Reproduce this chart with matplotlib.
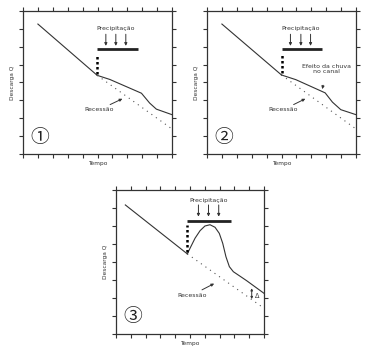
import matplotlib
matplotlib.use("Agg")
import matplotlib.pyplot as plt
import numpy as np

# ---- data (axis units: x 0..10, y 0..8) ----
x_ticks = list(range(0, 11))
y_ticks = list(range(0, 9))

# panel 1 / 2 hydrograph
p1_rec_x = [1.0, 4.98]
p1_rec_y = [7.27, 4.40]
p1_flow_x = [4.98, 5.83, 7.95, 8.5, 8.95, 10.0]
p1_flow_y = [4.40, 4.17, 3.40, 2.85, 2.51, 2.2]
p1_base_x = [4.98, 10.0]
p1_base_y = [4.40, 1.4]

p2_rec_x = [1.0, 5.0]
p2_rec_y = [7.27, 4.42]
p2_flow_x = [5.0, 5.96, 7.93, 8.42, 8.98, 10.0]
p2_flow_y = [4.42, 4.16, 3.42, 2.9, 2.48, 2.2]
p2_base_x = [5.0, 10.0]
p2_base_y = [4.42, 1.4]

# panel 3 hydrograph
p3_rec_x = [0.63, 4.82]
p3_rec_y = [7.17, 4.45]
p3_flow_x = [4.82, 5.0, 5.34, 5.68, 6.01, 6.35, 6.69, 6.98, 7.21, 7.43, 7.66, 7.93,
             8.4, 8.83, 10.0]
p3_flow_y = [4.45, 4.76, 5.32, 5.74, 6.0, 6.07, 5.93, 5.59, 5.04, 4.29, 3.74, 3.46,
             3.2, 2.96, 2.26]
p3_base_x = [4.82, 10.0]
p3_base_y = [4.45, 1.43]

labels = ["①", "②", "③"]

fig = plt.figure(figsize=(3.66, 3.5), dpi=100)
fig.patch.set_facecolor("white")

positions = [
    [23 / 366, 1 - 154 / 350, 149 / 366, 143 / 350],
    [207 / 366, 1 - 154 / 350, 149 / 366, 143 / 350],
    [116 / 366, 1 - 334 / 350, 148 / 366, 144 / 350],
]

FS = 4.2
LC = "#333333"


def setup(ax):
    ax.set_xlim(0, 10)
    ax.set_ylim(0, 8)
    ax.set_xticks(x_ticks)
    ax.set_yticks(y_ticks)
    ax.tick_params(axis="both", which="both", labelbottom=False, labelleft=False,
                   labeltop=False, labelright=False, length=3, width=0.8, color=LC,
                   direction="out", top=True, right=True)
    for side in ["left", "bottom", "top", "right"]:
        ax.spines[side].set_linewidth(0.9)
        ax.spines[side].set_color(LC)
    ax.set_xlabel("Tempo", fontsize=FS, labelpad=2, color=LC)
    ax.set_ylabel("Descarga Q", fontsize=FS, labelpad=3, color=LC)


def draw(ax, rx, ry, fx, fy, bx, by, num, bar, vtop, arrows_x, arr_top, arr_bot,
         ptext_y, rec_text, rec_tip):
    ax.plot(rx, ry, color=LC, lw=0.8)
    ax.plot(fx, fy, color=LC, lw=0.8)
    ax.plot(bx, by, color="#555555", lw=0.8, ls=(0, (1, 4)))
    # thick dotted vertical
    ax.plot([bx[0], bx[0]], [by[0] + 0.1, vtop], color="black", lw=1.8,
            ls=(0, (1, 1)))
    # precipitation bar
    ax.plot([bar[0], bar[1]], [bar[2], bar[2]], color="#222222", lw=2.0,
            solid_capstyle="butt")
    for xa in arrows_x:
        ax.annotate("", xy=(xa, arr_bot), xytext=(xa, arr_top),
                    arrowprops=dict(arrowstyle="-|>", color=LC, lw=0.7,
                                    mutation_scale=4, shrinkA=0, shrinkB=0))
    ax.text(np.mean(arrows_x), ptext_y, "Precipitação", fontsize=FS + 0.3,
            ha="center", va="center", color=LC)
    ax.annotate("Recessão", xy=rec_tip, xytext=rec_text, fontsize=FS + 0.3,
                ha="center", va="center", color=LC,
                arrowprops=dict(arrowstyle="-|>", color=LC, lw=0.7,
                                mutation_scale=4, shrinkA=10, shrinkB=0))
    ax.text(1.15, 0.95, num, fontsize=13.5, ha="center", va="center", color="#222222",
            family=["Noto Sans CJK JP", "DejaVu Sans"])


axes = [fig.add_axes(p) for p in positions]
for ax in axes:
    setup(ax)

draw(axes[0], p1_rec_x, p1_rec_y, p1_flow_x, p1_flow_y, p1_base_x, p1_base_y,
     labels[0], (4.98, 7.72, 5.86), 5.54, [5.56, 6.23, 6.9], 6.70, 6.05, 7.0,
     (5.1, 2.47), (6.67, 3.09))
draw(axes[1], p2_rec_x, p2_rec_y, p2_flow_x, p2_flow_y, p2_base_x, p2_base_y,
     labels[1], (5.0, 7.72, 5.86), 5.54, [5.6, 6.3, 6.95], 6.70, 6.05, 7.0,
     (5.1, 2.47), (6.6, 3.09))
axes[1].annotate("Efeito da chuva\nno canal", xy=(7.74, 3.63), xytext=(8.0, 4.75),
                 fontsize=FS + 0.3, ha="center", va="center", color=LC,
                 linespacing=1.1,
                 arrowprops=dict(arrowstyle="-|>", color=LC, lw=0.7,
                                 mutation_scale=4, shrinkA=6, shrinkB=0))
draw(axes[2], p3_rec_x, p3_rec_y, p3_flow_x, p3_flow_y, p3_base_x, p3_base_y,
     labels[2], (4.82, 7.75, 6.3), 6.06, [5.57, 6.25, 6.94], 7.17, 6.52, 7.44,
     (5.12, 2.16), (6.63, 2.8))
axes[2].annotate("", xy=(9.17, 1.94), xytext=(9.17, 2.54),
                 arrowprops=dict(arrowstyle="<|-|>", color=LC, lw=0.7,
                                 mutation_scale=3, shrinkA=0, shrinkB=0))
axes[2].text(9.57, 2.13, "Δ", fontsize=FS + 0.5, ha="center", va="center", color=LC)

fig.savefig("out.png", dpi=100, facecolor="white")
